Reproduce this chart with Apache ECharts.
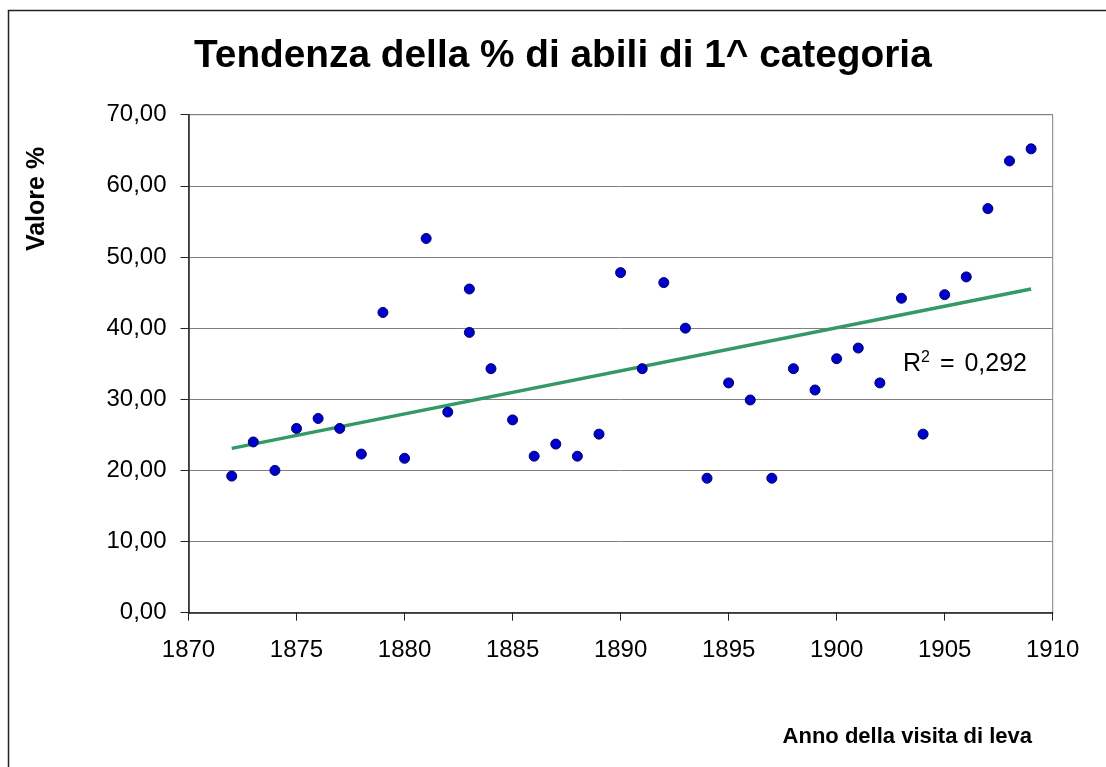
<!DOCTYPE html>
<html>
<head>
<meta charset="utf-8">
<script src="https://cdn.jsdelivr.net/npm/echarts@6/dist/echarts.min.js"></script>
<style>
html,body{margin:0;padding:0;background:#fff;}
#chart{width:1106px;height:767px;}
</style>
</head>
<body>
<div id="chart"></div>
<script>
const years = [1872,1873,1874,1875,1876,1877,1878,1879,1880,1881,1882,1883,1883,1884,1885,1886,1887,1888,1889,1890,1891,1892,1893,1894,1895,1896,1897,1898,1899,1900,1901,1902,1903,1904,1905,1906,1907,1908,1909];
const values = [19.2,24.0,20.0,25.9,27.3,25.9,22.3,42.2,21.7,52.6,28.2,45.5,39.4,34.3,27.1,22.0,23.7,22.0,25.1,47.8,34.3,46.4,40.0,18.9,32.3,29.9,18.9,34.3,31.3,35.7,37.2,32.3,44.2,25.1,44.7,47.2,56.8,63.5,65.2];
const trendYears = [1872,1909];
const trendValues = [23.1,45.5];
const titleText = 'Tendenza della % di abili di 1^ categoria';
const yName = 'Valore %';
const xName = 'Anno della visita di leva';
const r2Text = '0,292';

const FONT = '"Liberation Sans", Arial, sans-serif';
const chart = echarts.init(document.getElementById('chart'), null, {renderer:'canvas'});
const points = years.map((y,i)=>[y,values[i]]);
const trend = trendYears.map((y,i)=>[y,trendValues[i]]);

chart.setOption({
  animation:false,
  backgroundColor:'#fff',
  grid:{left:188.5,right:53.3,top:114.7,bottom:154.3,show:true,borderColor:'#808080',borderWidth:1,backgroundColor:'transparent'},
  xAxis:{
    type:'value',min:1870,max:1910,interval:5,
    axisLine:{show:true,lineStyle:{color:'#222',width:1.5}},
    axisTick:{show:true,length:8,inside:false,lineStyle:{color:'#222'}},
    axisLabel:{color:'#000',fontSize:24,fontFamily:FONT,margin:26,formatter:v=>String(v)},
    splitLine:{show:false}
  },
  yAxis:{
    type:'value',min:0,max:70,interval:10,
    axisLine:{show:true,lineStyle:{color:'#222',width:1.5}},
    axisTick:{show:true,length:8,inside:false,lineStyle:{color:'#222'}},
    axisLabel:{color:'#000',fontSize:24,fontFamily:FONT,margin:22,formatter:v=>v.toFixed(2).replace('.',',')},
    splitLine:{show:true,lineStyle:{color:'#808080',width:1}}
  },
  series:[
    {type:'line',data:trend,symbol:'none',lineStyle:{color:'#339966',width:3.5},z:2,silent:true},
    {type:'scatter',data:points,symbolSize:10,itemStyle:{color:'#0000cc',borderColor:'#000066',borderWidth:1,opacity:1},z:3}
  ],
  graphic:[
    {type:'rect',shape:{x:8.5,y:10.5,width:1200,height:1000},style:{fill:'none',stroke:'#222',lineWidth:1.5},z:-1,silent:true},
    {type:'text',x:194,y:56,style:{text:titleText,font:'bold 38.8px '+FONT,fill:'#000',textAlign:'left',textVerticalAlign:'middle'}},
    {type:'text',x:37,y:199,rotation:Math.PI/2,style:{text:yName,font:'bold 25px '+FONT,fill:'#000',textAlign:'center',textVerticalAlign:'middle'}},
    {type:'text',x:1032,y:737,style:{text:xName,font:'bold 22px '+FONT,fill:'#000',textAlign:'right',textVerticalAlign:'middle'}},
    {type:'text',x:903,y:364,style:{text:'R{sup|2} {eq|=} '+r2Text,font:'25px '+FONT,fill:'#000',textAlign:'left',textVerticalAlign:'middle',rich:{sup:{fontSize:16,fontFamily:FONT,verticalAlign:'top',padding:[0,0,12,0]},eq:{fontSize:25,fontFamily:FONT,padding:[0,3,0,3]}}}}
  ]
});
</script>
</body>
</html>
